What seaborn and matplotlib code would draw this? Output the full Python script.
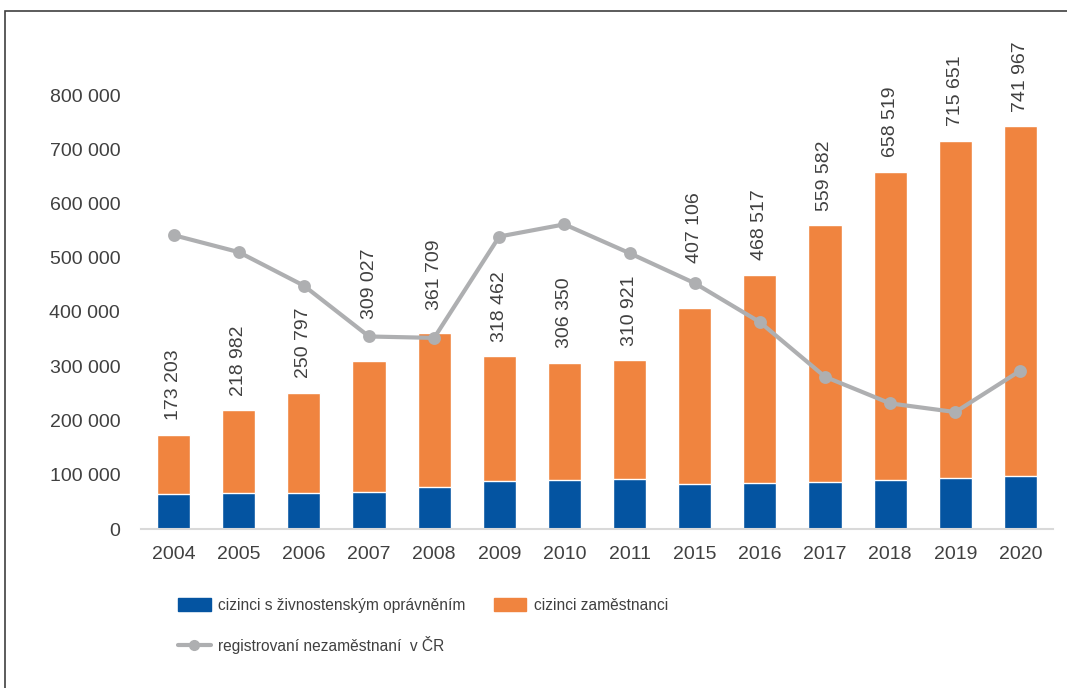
import matplotlib
matplotlib.use("Agg")
import pandas as pd
import seaborn as sns
from matplotlib import pyplot as plt
from matplotlib.patches import Patch, Rectangle
from matplotlib.lines import Line2D
from matplotlib.ticker import FuncFormatter

years = ['2004', '2005', '2006', '2007', '2008', '2009', '2010',
         '2011', '2015', '2016', '2017', '2018', '2019', '2020']
# total foreigners (label on top of the stacked bar)
total = [173203, 218982, 250797, 309027, 361709, 318462, 306350,
         310921, 407106, 468517, 559582, 658519, 715651, 741967]
# foreigners with trade licence (blue part)
trade = [64500, 67000, 65800, 68800, 77400, 87900, 90900,
         92700, 83500, 85300, 87200, 89700, 94000, 97700]
# registered unemployed in CR (grey line)
unemployed = [541675, 510416, 448545, 354878, 352250, 539136, 561551,
              508451, 453118, 381373, 280620, 231534, 215532, 291977]

BLUE = '#0454A1'
ORANGE = '#F0843F'
GREY = '#AEAFB1'
TEXT = '#404040'

df = pd.DataFrame({'rok': years, 'celkem': total, 'zivnost': trade, 'nezam': unemployed})

sns.set_style("white")
plt.rcParams['font.family'] = ['Liberation Sans', 'DejaVu Sans']

fig = plt.figure(figsize=(10.67, 6.88), dpi=100)
ax = fig.add_axes([141 / 1067, 1 - 529 / 688, (1053 - 141) / 1067, (529 - 95) / 688])

# stacked look: total bar in orange, blue part drawn over it
sns.barplot(data=df, x='rok', y='celkem', color=ORANGE, width=0.51, saturation=1, ax=ax)
sns.barplot(data=df, x='rok', y='zivnost', color=BLUE, width=0.51, saturation=1, ax=ax)
sns.pointplot(data=df, x='rok', y='nezam', color=GREY, markers='o', markersize=7,
              linewidth=3, ax=ax)

fmt = lambda v: f"{int(round(v)):,}".replace(",", " ")

# labels moved up a bit where the line would cross them
extra_pad = {'2007': 20, '2008': 6, '2015': 22}
for i, (yr, v) in enumerate(zip(years, total)):
    ax.annotate(fmt(v), (i, v), xytext=(0, 10.5 + extra_pad.get(yr, 0)),
                textcoords='offset points', rotation=90, ha='center', va='bottom',
                fontsize=14, color=TEXT, annotation_clip=False)

ax.set_xlim(-0.5, len(years) - 0.5)
ax.set_ylim(0, 800000)
ax.set_yticks(range(0, 800001, 100000))
ax.yaxis.set_major_formatter(FuncFormatter(lambda v, p: fmt(v)))
ax.set_xlabel('')
ax.set_ylabel('')
ax.tick_params(axis='both', length=0, labelsize=14, labelcolor=TEXT)
ax.tick_params(axis='y', pad=15)
ax.tick_params(axis='x', pad=12)
for s in ['top', 'right', 'left']:
    ax.spines[s].set_visible(False)
ax.spines['bottom'].set_color('#D9D9D9')
ax.spines['bottom'].set_linewidth(1.5)

handles = [Patch(color=BLUE),
           Line2D([], [], color=GREY, lw=3, marker='o', markersize=7),
           Patch(color=ORANGE)]
labels = ['cizinci s živnostenským oprávněním',
          'registrovaní nezaměstnaní  v ČR',
          'cizinci zaměstnanci']
fig.legend(handles, labels, ncol=2, frameon=False, loc='upper left',
           bbox_to_anchor=(178 / 1067, 1 - 598 / 688), borderpad=0, borderaxespad=0,
           fontsize=11.2, labelcolor=TEXT, handlelength=2.1, handleheight=0.85,
           handletextpad=0.5, columnspacing=1.8, labelspacing=1.45)

# frame around the chart (only top and left are inside the picture)
fig.patches.append(Rectangle((4.5 / 1067, -0.1), 1.2, 1.1 - 11.5 / 688, transform=fig.transFigure,
                             fill=False, edgecolor=TEXT, lw=1.2))

fig.savefig('out.png', dpi=100)
